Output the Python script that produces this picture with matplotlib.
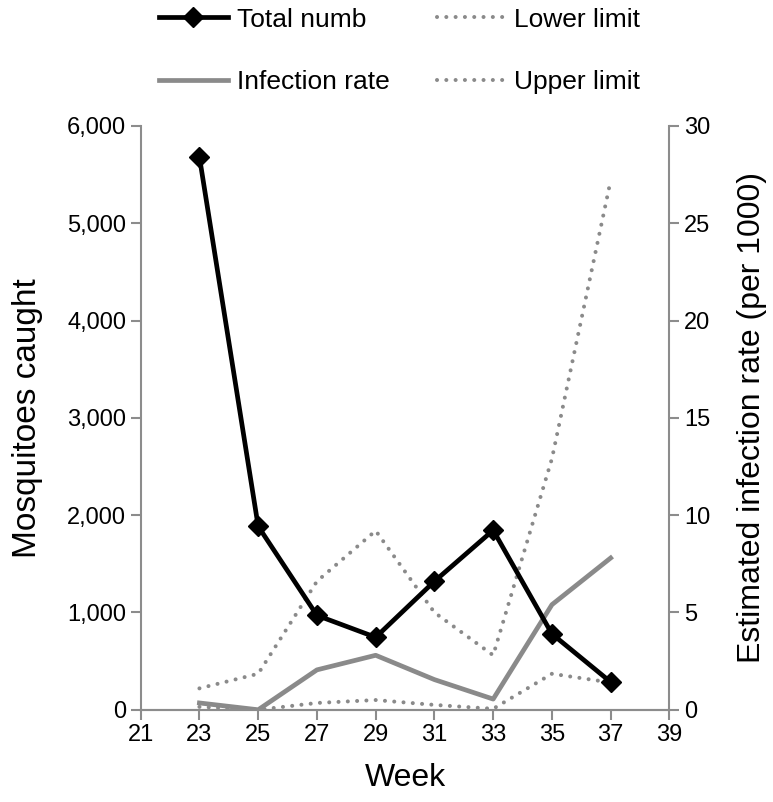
import matplotlib
matplotlib.use('Agg')
import matplotlib.pyplot as plt
import matplotlib.ticker as mticker

plt.rcParams['font.family'] = ['Liberation Sans', 'DejaVu Sans']

weeks = [23, 25, 27, 29, 31, 33, 35, 37]
total_numb = [5680, 1885, 970, 745, 1320, 1845, 780, 285]
infection_rate = [0.35, 0.0, 2.05, 2.8, 1.55, 0.55, 5.4, 7.8]
lower_limit = [0.15, 0.0, 0.35, 0.5, 0.25, 0.05, 1.85, 1.4]
upper_limit = [1.1, 1.85, 6.6, 9.2, 5.0, 2.8, 12.9, 27.2]

grey = '#8a8a8a'
spine_grey = '#8c8c8c'
dots = (0, (0.01, 2.3))

fig = plt.figure(figsize=(7.73, 8.02), dpi=100)
ax = fig.add_axes([0.182, 0.115, 0.684, 0.728])
ax2 = ax.twinx()

l1, = ax.plot(weeks, total_numb, color='black', lw=3.4, marker='D', markersize=10,
              zorder=5, label='Total numb')
l2, = ax2.plot(weeks, infection_rate, color=grey, lw=3.4, label='Infection rate')
l3, = ax2.plot(weeks, lower_limit, color=grey, lw=2.9, linestyle=dots,
               dash_capstyle='round', label='Lower limit')
l4, = ax2.plot(weeks, upper_limit, color=grey, lw=2.9, linestyle=dots,
               dash_capstyle='round', label='Upper limit')
ax.set_zorder(ax2.get_zorder() + 1)
ax.patch.set_visible(False)

ax.set_xlim(21, 39)
ax.set_ylim(0, 6000)
ax2.set_ylim(0, 30)
ax.set_xticks(range(21, 40, 2))
ax.set_yticks(range(0, 6001, 1000))
ax2.set_yticks(range(0, 31, 5))
ax.yaxis.set_major_formatter(mticker.FuncFormatter(lambda v, p: f'{int(v):,}'))

for a in (ax, ax2):
    for s in a.spines.values():
        s.set_color(spine_grey)
        s.set_linewidth(1.5)
    a.spines['top'].set_visible(False)
    a.tick_params(colors=spine_grey, labelcolor='black', labelsize=17, length=7, width=1.5)
ax2.spines['left'].set_visible(False)
ax.spines['right'].set_visible(False)

ax.set_xlabel('Week', fontsize=23, labelpad=12)
ax.set_ylabel('Mosquitoes caught', fontsize=24, labelpad=17)
ax2.set_ylabel('Estimated infection rate (per 1000)', fontsize=23, labelpad=19)

fig.legend(handles=[l1, l2, l3, l4], ncol=2, loc='upper left',
           bbox_to_anchor=(0.175, 1.02), frameon=False, fontsize=19,
           handlelength=2.6, handletextpad=0.34, columnspacing=1.8,
           labelspacing=1.45)

fig.savefig('out.png', dpi=100)
